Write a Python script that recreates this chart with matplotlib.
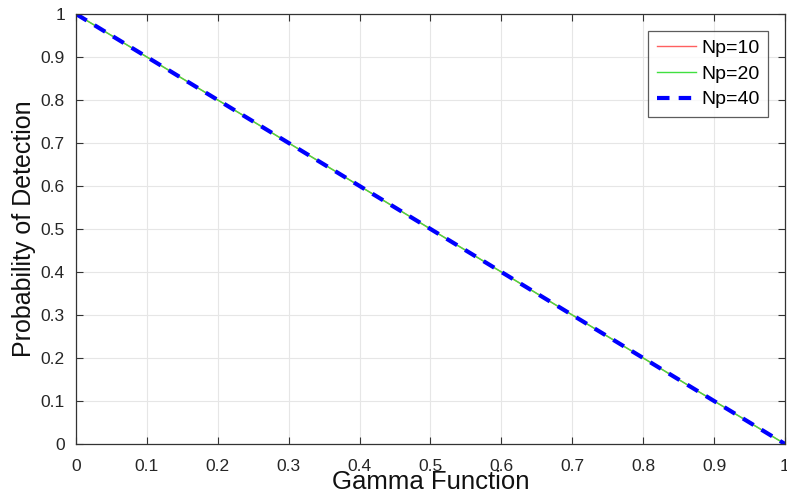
import matplotlib.pyplot as plt

plt.rcParams['font.family'] = ['Liberation Sans', 'DejaVu Sans']

# data: all three curves lie on Pd = 1 - gamma
gamma = [0.0, 0.1, 0.2, 0.3, 0.4, 0.5, 0.6, 0.7, 0.8, 0.9, 1.0]
pd_np10 = [1.0, 0.9, 0.8, 0.7, 0.6, 0.5, 0.4, 0.3, 0.2, 0.1, 0.0]
pd_np20 = [1.0, 0.9, 0.8, 0.7, 0.6, 0.5, 0.4, 0.3, 0.2, 0.1, 0.0]
pd_np40 = [1.0, 0.9, 0.8, 0.7, 0.6, 0.5, 0.4, 0.3, 0.2, 0.1, 0.0]
ticks = [0, 0.1, 0.2, 0.3, 0.4, 0.5, 0.6, 0.7, 0.8, 0.9, 1]
tick_labels = ['0', '0.1', '0.2', '0.3', '0.4', '0.5', '0.6', '0.7', '0.8', '0.9', '1']

fig = plt.figure(figsize=(7.87, 4.95), dpi=100)
ax = fig.add_axes([76 / 787, 1 - 444 / 495, 709 / 787, 430 / 495])

ax.plot(gamma, pd_np10, color='#ff6060', lw=1.0, label='Np=10')
ax.plot(gamma, pd_np20, color='#40e040', lw=1.0, label='Np=20')
ax.plot(gamma, pd_np40, color='#0000ff', lw=3.0, ls=(0, (3, 2.2)), label='Np=40')

ax.set_xlim(0, 1)
ax.set_ylim(0, 1)
ax.set_xticks(ticks)
ax.set_xticklabels(tick_labels)
ax.set_yticks(ticks)
ax.set_yticklabels(tick_labels)
ax.grid(True, color='#e6e6e6', lw=0.8)
ax.set_axisbelow(True)
ax.tick_params(direction='in', top=True, right=True, length=5, width=0.8,
               color='#333333', labelsize=12.5, labelcolor='#262626')
ax.tick_params(axis='x', pad=11)
ax.tick_params(axis='y', pad=8)
for s in ax.spines.values():
    s.set_color('#333333')
    s.set_linewidth(0.9)

ax.set_xlabel('Gamma Function', fontsize=18.5, color='#111111')
ax.set_ylabel('Probability of Detection', fontsize=18, color='#111111')
ax.xaxis.set_label_coords(0.5, -0.06)
ax.yaxis.set_label_coords(-0.057, 0.5)

leg = ax.legend(loc='upper right', fontsize=14, frameon=True, fancybox=False,
                edgecolor='#333333', handlelength=2.0, handletextpad=0.28,
                borderpad=0.45, labelspacing=0.42, borderaxespad=0.3,
                bbox_to_anchor=(0.9845, 0.975))
leg.get_frame().set_linewidth(0.9)

fig.savefig('out.png', dpi=100)
